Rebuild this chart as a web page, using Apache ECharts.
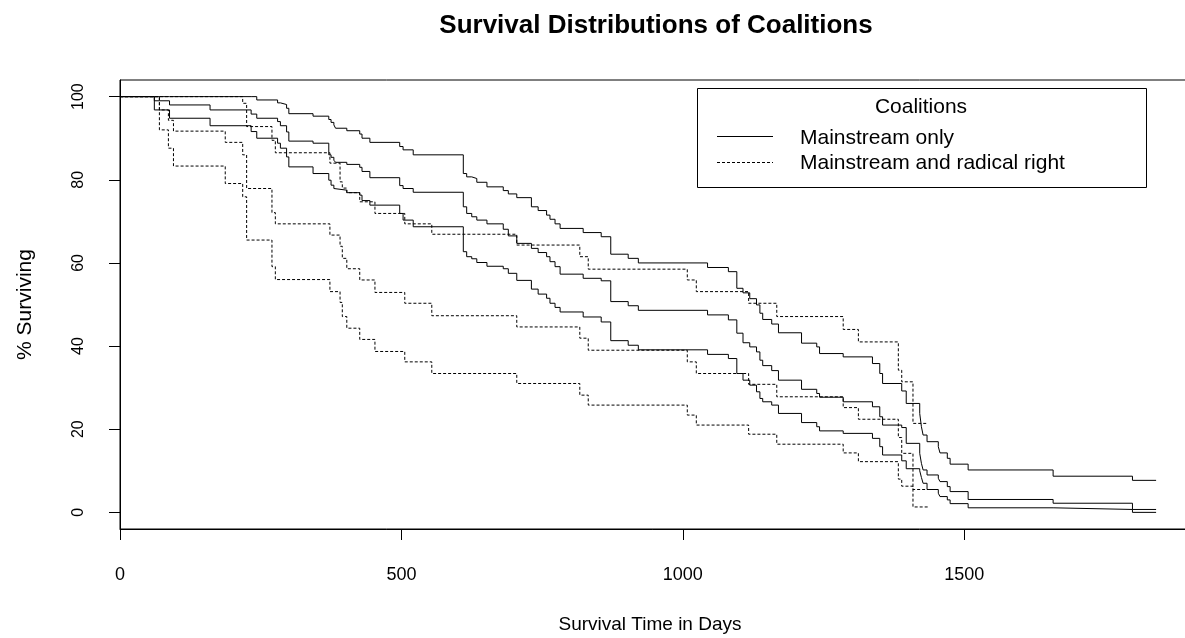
<!DOCTYPE html>
<html><head><meta charset="utf-8">
<script src="https://cdn.jsdelivr.net/npm/echarts@6/dist/echarts.min.js"></script>
<style>html,body{margin:0;padding:0;background:#fff}#c{width:1185px;height:638px}</style>
</head><body><div id="c"></div>
<script>
// ---- data (days, % surviving) ----
const solidTimes = [0, 61, 88, 160, 233, 243, 280, 285, 296, 300, 343, 371, 375, 380, 383, 403, 426, 430, 444, 497, 503, 521, 610, 616, 625, 634, 652, 681, 690, 705, 731, 743, 758, 764, 773, 782, 823, 855, 872, 903, 921, 1044, 1081, 1096, 1107, 1119, 1131, 1137, 1142, 1158, 1170, 1211, 1238, 1243, 1285, 1337, 1350, 1355, 1389, 1397, 1421, 1424, 1427, 1434, 1454, 1457, 1470, 1475, 1507, 1658, 1799, 1841];
const solidUpper = [100, 100, 100, 100, 100, 99.2, 98.5, 98.1, 97.2, 95.9, 95.3, 94.5, 93.8, 93.2, 92.4, 91.8, 91.0, 90.0, 89.0, 88.0, 87.2, 86.0, 81.5, 80.7, 80.3, 79.4, 78.3, 77.4, 76.6, 75.7, 73.5, 72.6, 71.5, 70.5, 69.4, 68.3, 67.3, 66.3, 62.1, 61.1, 60.0, 58.9, 57.9, 53.9, 52.8, 51.4, 49.9, 47.9, 46.4, 45.3, 43.2, 40.7, 39.8, 38.2, 37.4, 35.8, 33.4, 31.0, 29.2, 26.2, 23.8, 20.6, 18.6, 17.0, 15.8, 14.3, 13.0, 11.6, 10.2, 8.7, 7.7, 7.7];
const solidEst = [100, 99.0, 98.0, 96.8, 95.8, 94.8, 94.0, 93.0, 91.5, 89.3, 88.8, 86.0, 85.4, 84.7, 84.2, 83.7, 83.0, 82.0, 80.5, 78.6, 77.9, 77.0, 73.5, 71.9, 71.1, 70.3, 69.4, 68.1, 66.5, 64.7, 63.5, 62.5, 61.5, 60.3, 59.1, 57.3, 56.3, 55.7, 50.7, 49.7, 48.6, 47.5, 46.3, 43.1, 40.8, 39.8, 38.6, 36.6, 35.3, 34.1, 31.8, 29.6, 28.6, 27.7, 26.6, 25.4, 23.0, 21.0, 20.4, 16.6, 14.2, 11.8, 10.2, 9.0, 8.2, 7.4, 6.2, 5.0, 3.1, 2.2, 0.7, 0.7];
const solidLower = [100, 96.8, 94.8, 93.0, 91.6, 90.0, 88.8, 87.6, 85.5, 83.1, 81.5, 79.9, 78.7, 77.9, 77.5, 76.9, 76.3, 75.0, 73.9, 71.9, 70.3, 68.7, 62.7, 61.5, 61.0, 60.1, 59.2, 58.6, 57.5, 55.8, 53.7, 52.5, 51.5, 50.3, 49.3, 48.2, 47.0, 45.8, 41.3, 40.2, 39.1, 38.0, 37.0, 33.4, 31.8, 30.6, 29.0, 27.4, 26.6, 25.8, 23.8, 21.6, 20.6, 19.6, 19.0, 17.8, 15.8, 13.8, 12.4, 10.5, 10.0, 8.4, 7.0, 5.5, 4.6, 3.8, 3.0, 2.1, 1.1, 0.7, 0.0, 0.0];

const dottedTimes = [0, 70, 86, 95, 187, 218, 225, 270, 276, 373, 391, 395, 403, 426, 453, 506, 554, 705, 817, 832, 1008, 1024, 1117, 1167, 1285, 1312, 1383, 1389, 1409, 1436];
const dottedUpper = [100, 100, 100, 100, 100, 98.4, 92.8, 89.5, 86.5, 84.0, 79.5, 78.0, 76.9, 74.7, 71.9, 69.4, 66.9, 64.3, 61.5, 58.5, 55.9, 53.1, 50.3, 47.1, 44.0, 41.0, 34.2, 31.4, 21.4, 21.4];
const dottedEst = [100, 96.8, 94.3, 91.7, 89.0, 86.0, 77.9, 72.1, 69.4, 66.7, 64.0, 61.1, 58.6, 55.9, 52.9, 50.3, 47.3, 44.6, 41.9, 39.0, 36.2, 33.4, 30.8, 27.8, 25.2, 22.4, 18.0, 14.2, 5.5, 5.5];
const dottedLower = [100, 92.0, 87.6, 83.3, 79.1, 75.9, 65.5, 59.1, 56.0, 53.1, 50.5, 47.1, 44.3, 41.6, 38.7, 36.2, 33.4, 31.0, 28.2, 25.8, 23.4, 21.0, 18.8, 16.4, 14.3, 12.2, 8.0, 6.3, 1.3, 1.3];

const xTicks = [0, 500, 1000, 1500];
const yTicks = [0, 20, 40, 60, 80, 100];
const legendTitle = 'Coalitions';
const legendNames = ['Mainstream only', 'Mainstream and radical right'];

// ---- chart ----
const FONT = '"Liberation Sans", Arial, Helvetica, sans-serif';
const DASH = [3, 2];
const zip = (t, v) => t.map((x, i) => [x, v[i]]);
const mk = (name, t, v, dotted) => ({
  type: 'line', name: name, step: 'end', data: zip(t, v),
  showSymbol: false, symbol: 'none', silent: true, animation: false,
  lineStyle: { color: '#000', width: 1, type: dotted ? DASH : 'solid' }
});

const chart = echarts.init(document.getElementById('c'), null, { renderer: 'canvas' });
chart.setOption({
  animation: false,
  backgroundColor: '#fff',
  grid: { left: 120, right: -15, top: 80, bottom: 109, show: true, borderColor: '#000', borderWidth: 1,
          containLabel: false, outerBoundsMode: 'none' },
  xAxis: {
    type: 'value', min: 0, max: 1919,
    name: 'Survival Time in Days', nameLocation: 'middle', nameGap: 86,
    nameTextStyle: { color: '#000', fontSize: 19, fontFamily: FONT, padding: [0, 20, 0, 0] },
    axisLine: { show: true, onZero: false, lineStyle: { color: '#000', width: 1 } },
    axisTick: { show: true, length: 11, customValues: xTicks, lineStyle: { color: '#000', width: 1 } },
    axisLabel: { customValues: xTicks, margin: 37, color: '#000', fontSize: 18, fontFamily: FONT,
                 formatter: v => String(v) },
    splitLine: { show: false }
  },
  yAxis: {
    type: 'value', min: -4, max: 104,
    name: '% Surviving', nameLocation: 'middle', nameGap: 84, nameRotate: 90,
    nameTextStyle: { color: '#000', fontSize: 21, fontFamily: FONT },
    axisLine: { show: true, onZero: false, lineStyle: { color: '#000', width: 1 } },
    axisTick: { show: true, length: 11, customValues: yTicks, lineStyle: { color: '#000', width: 1 } },
    axisLabel: { customValues: yTicks, rotate: 90, margin: 33, color: '#000', fontSize: 16, fontFamily: FONT,
                 formatter: v => String(v) },
    splitLine: { show: false }
  },
  series: [
    mk('Mainstream only (upper)', solidTimes, solidUpper, false),
    mk('Mainstream only', solidTimes, solidEst, false),
    mk('Mainstream only (lower)', solidTimes, solidLower, false),
    mk('Mainstream and radical right (upper)', dottedTimes, dottedUpper, true),
    mk('Mainstream and radical right', dottedTimes, dottedEst, true),
    mk('Mainstream and radical right (lower)', dottedTimes, dottedLower, true)
  ],
  graphic: [
    { type: 'text', style: { text: 'Survival Distributions of Coalitions',
      x: 656, y: 26, fill: '#000', font: 'bold 26px ' + FONT, textAlign: 'center', textVerticalAlign: 'middle' } },
    { type: 'group', children: [
      { type: 'rect', shape: { x: 697.5, y: 88.5, width: 449, height: 99 }, style: { fill: '#fff', stroke: '#000', lineWidth: 1 } },
      { type: 'text', style: { text: legendTitle, x: 921, y: 107, fill: '#000', font: '21px ' + FONT, textAlign: 'center', textVerticalAlign: 'middle' } },
      { type: 'line', shape: { x1: 717, y1: 136.5, x2: 773, y2: 136.5 }, style: { stroke: '#000', lineWidth: 1 } },
      { type: 'line', shape: { x1: 717, y1: 162.5, x2: 773, y2: 162.5 }, style: { stroke: '#000', lineWidth: 1, lineDash: DASH } },
      { type: 'text', style: { text: legendNames[0], x: 800, y: 138, fill: '#000', font: '21px ' + FONT, textAlign: 'left', textVerticalAlign: 'middle' } },
      { type: 'text', style: { text: legendNames[1], x: 800, y: 163, fill: '#000', font: '21px ' + FONT, textAlign: 'left', textVerticalAlign: 'middle' } }
    ] }
  ]
});
</script></body></html>
